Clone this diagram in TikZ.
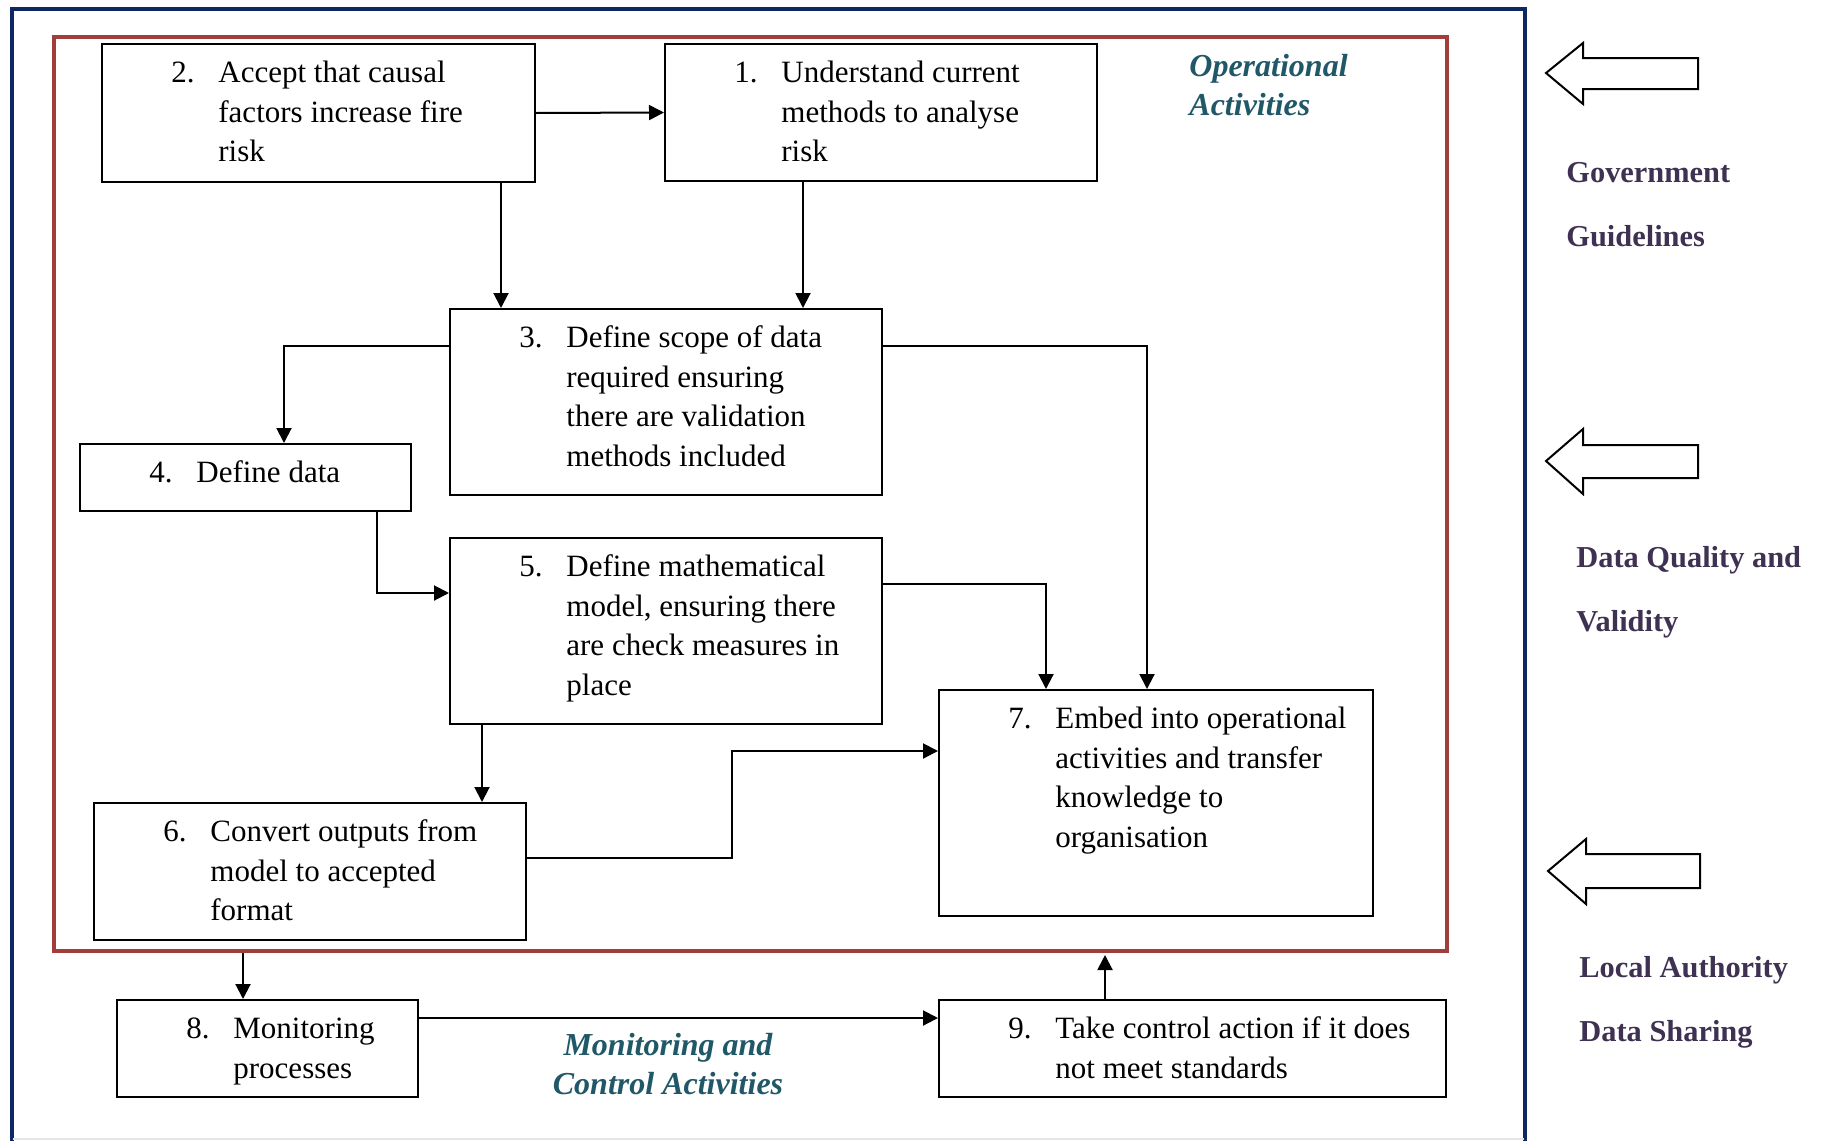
\documentclass[tikz,border=0pt]{standalone}
\usepackage{fontspec}
\setmainfont{Liberation Serif}
\usetikzlibrary{arrows.meta}

\definecolor{frameblue}{RGB}{14,40,100}
\definecolor{framered}{RGB}{160,62,60}
\definecolor{labelteal}{RGB}{33,88,104}
\definecolor{labelpurple}{RGB}{63,49,81}

% hanging indent for continuation lines of a numbered step
\newcommand\hind{\hspace*{23.5pt}}
% numbered process step: name, left, top, width, height, number, text lines
\newcommand\procbox[7]{%
  \node[stepbox, minimum width=#4*0.5pt, minimum height=#5*0.5pt] (#1) at (#2,#3) {};
  \node[steptext] (#1-text) at ({#2+70},{#3+11.3}) {\strut\makebox[23.5pt][l]{#6}#7};
}

\begin{document}
\begin{tikzpicture}[x=0.5pt, y=-0.5pt,
  stepbox/.style={draw, line width=1pt, anchor=north west, inner sep=0pt},
  steptext/.style={anchor=north west, inner sep=0pt, align=left,
    font=\fontsize{15.5}{19.8}\selectfont},
  conn/.style={line width=1pt, -{Triangle[length=7.5pt,width=7.5pt]}},
  opsframe/.style={draw=framered, line width=2pt, anchor=north west, inner sep=0pt},
  sidelabel/.style={anchor=north west, inner sep=0pt, align=left, text=labelpurple,
    font=\bfseries\fontsize{15.2}{32}\selectfont},
  grouplabel/.style={inner sep=0pt, text=labelteal,
    font=\bfseries\itshape\fontsize{16}{19.5}\selectfont},
  blockarrow/.style={draw, line width=1pt, line join=miter}]

\useasboundingbox (0,0) rectangle (1823,1140);

% outer frame (open at the bottom edge of the page)
\draw[line width=1.7pt, frameblue] (12,1160) -- (12,9) -- (1525,9) -- (1525,1160);
\draw[line width=1pt, black!10] (13,1139) -- (1524,1139);

% operational activities frame
\node[opsframe, minimum width=1393*0.5pt, minimum height=914*0.5pt] (ops) at (52,35) {};

% process steps
\procbox{b2}{101}{43}{433}{138}{2.}{Accept that causal\\\hind factors increase fire\\\hind risk}
\procbox{b1}{664}{43}{432}{137}{1.}{Understand current\\\hind methods to analyse\\\hind risk}
\procbox{b3}{449}{308}{432}{186}{3.}{Define scope of data\\\hind required ensuring\\\hind there are validation\\\hind methods included}
\procbox{b4}{79}{443}{331}{67}{4.}{Define data}
\procbox{b5}{449}{537}{432}{186}{5.}{Define mathematical\\\hind model, ensuring there\\\hind are check measures in\\\hind place}
\procbox{b6}{93}{802}{432}{137}{6.}{Convert outputs from\\\hind model to accepted\\\hind format}
\procbox{b7}{938}{689}{434}{226}{7.}{Embed into operational\\\hind activities and transfer\\\hind knowledge to\\\hind organisation}
\procbox{b8}{116}{999}{301}{97}{8.}{Monitoring\\\hind processes}
\procbox{b9}{938}{999}{507}{97}{9.}{Take control action if it does\\\hind not meet standards}

% connectors
\draw[conn] (b2.east) -- (b1.west);
\draw[conn] (501,0 |- b2.south) -- (501,0 |- b3.north);
\draw[conn] (803,0 |- b1.south) -- (803,0 |- b3.north);
\draw[conn] (b3.west |- 0,346) -| (284,0 |- b4.north);
\draw[conn] (377,0 |- b4.south) |- (b5.west |- 0,593);
\draw[conn] (b3.east |- 0,346) -| (1147,0 |- b7.north);
\draw[conn] (b5.east |- 0,584) -| (1046,0 |- b7.north);
\draw[conn] (482,0 |- b5.south) -- (482,0 |- b6.north);
\draw[conn] (b6.east |- 0,858) -| (732,751) -- (b7.west |- 0,751);
\draw[conn] (243,0 |- ops.south) -- (243,0 |- b8.north);
\draw[conn] (b8.east |- 0,1018) -- (b9.west |- 0,1018);
\draw[conn, shorten >=1pt] (1105,0 |- b9.north) -- (1105,0 |- ops.south);

% group captions
\node[grouplabel, anchor=north west, align=left] (opslabel) at (1189,48.7)
  {\strut Operational\\Activities};
\node[grouplabel, anchor=north, align=center] (monlabel) at (668,1027.7)
  {\strut Monitoring and\\Control Activities};

% external influences
\draw[blockarrow] (1546,73) -- (1583,43) -- (1583,58) -- (1698,58) -- (1698,89)
  -- (1583,89) -- (1583,104) -- cycle;
\draw[blockarrow] (1546,461) -- (1583,429) -- (1583,445) -- (1698,445) -- (1698,478)
  -- (1583,478) -- (1583,494) -- cycle;
\draw[blockarrow] (1548,871) -- (1586,839) -- (1586,854) -- (1700,854) -- (1700,888)
  -- (1586,888) -- (1586,904) -- cycle;

\node[sidelabel] (gov) at (1566,137.2) {\strut Government\\Guidelines};
\node[sidelabel] (dq) at (1576,522.2) {\strut Data Quality and\\Validity};
\node[sidelabel] (la) at (1579,932.2) {\strut Local Authority\\Data Sharing};

\end{tikzpicture}
\end{document}
